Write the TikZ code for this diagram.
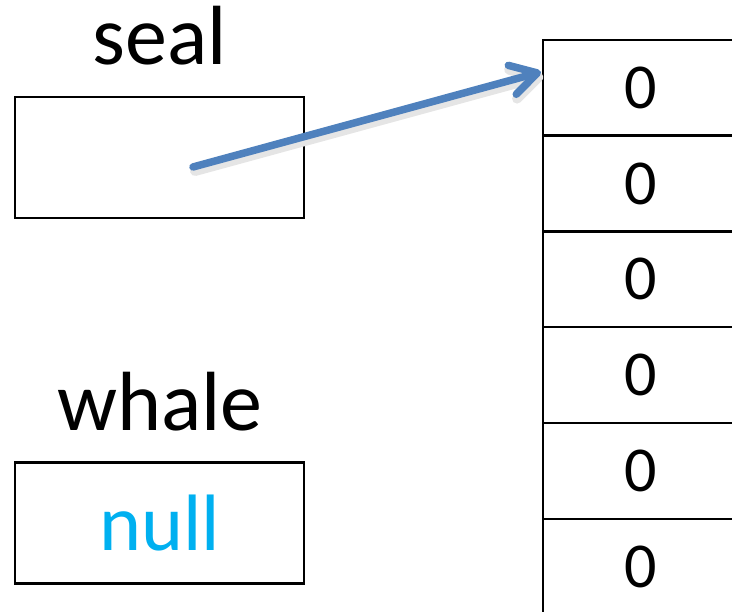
\documentclass[tikz,border=0pt]{standalone}
\usepackage{fontspec}
\setmainfont{Carlito}
\usetikzlibrary{arrows.meta}
\definecolor{arrowblue}{HTML}{4F81BD}
\definecolor{nullblue}{HTML}{00B0F0}
\tikzset{
  varbox/.style={draw=black, line width=2.5pt, minimum width=289pt, minimum height=121pt, inner sep=0pt, font=\fontsize{80}{84}\selectfont},
  cell/.style={draw=black, line width=2.5pt, minimum width=196pt, minimum height=96pt, inner sep=0pt, font=\fontsize{64}{66}\selectfont},
  lbl/.style={inner sep=0pt, font=\fontsize{84}{88}\selectfont},
  ptr/.style={draw=arrowblue, line width=7.5pt, line cap=round, line join=round, -{Straight Barb[length=26pt,width=30pt,line width=7.5pt,round]}},
  ptrshadow/.style={draw=black!10, line width=10pt, line cap=round, line join=round, -{Straight Barb[length=26pt,width=30pt,line width=10pt,round]}}
}
\begin{document}
\begin{tikzpicture}[x=1pt,y=1pt]
\useasboundingbox (0,0) rectangle (732,-612);
\clip (0,0) rectangle (732,-612);
\node[lbl] (seallbl) at (160,-36) {seal};
\node[varbox] (seal) at (159.5,-157.5) {};
\node[lbl] (whalelbl) at (160,-401.5) {whale};
\node[varbox, text=nullblue] (whale) at (159.5,-523) {null};
\foreach \i/\y in {1/-88,2/-183.5,3/-279,4/-375,5/-471,6/-567}{
  \node[cell] (c\i) at (641,\y) {0};
}
\coordinate (start) at (193,-167);
\coordinate (tip) at (541,-72);
\coordinate (starts) at (195,-171);
\coordinate (tips) at (543,-76);
\draw[ptrshadow] (starts) -- (tips);
\draw[ptr] (start) -- (tip);
\end{tikzpicture}
\end{document}
